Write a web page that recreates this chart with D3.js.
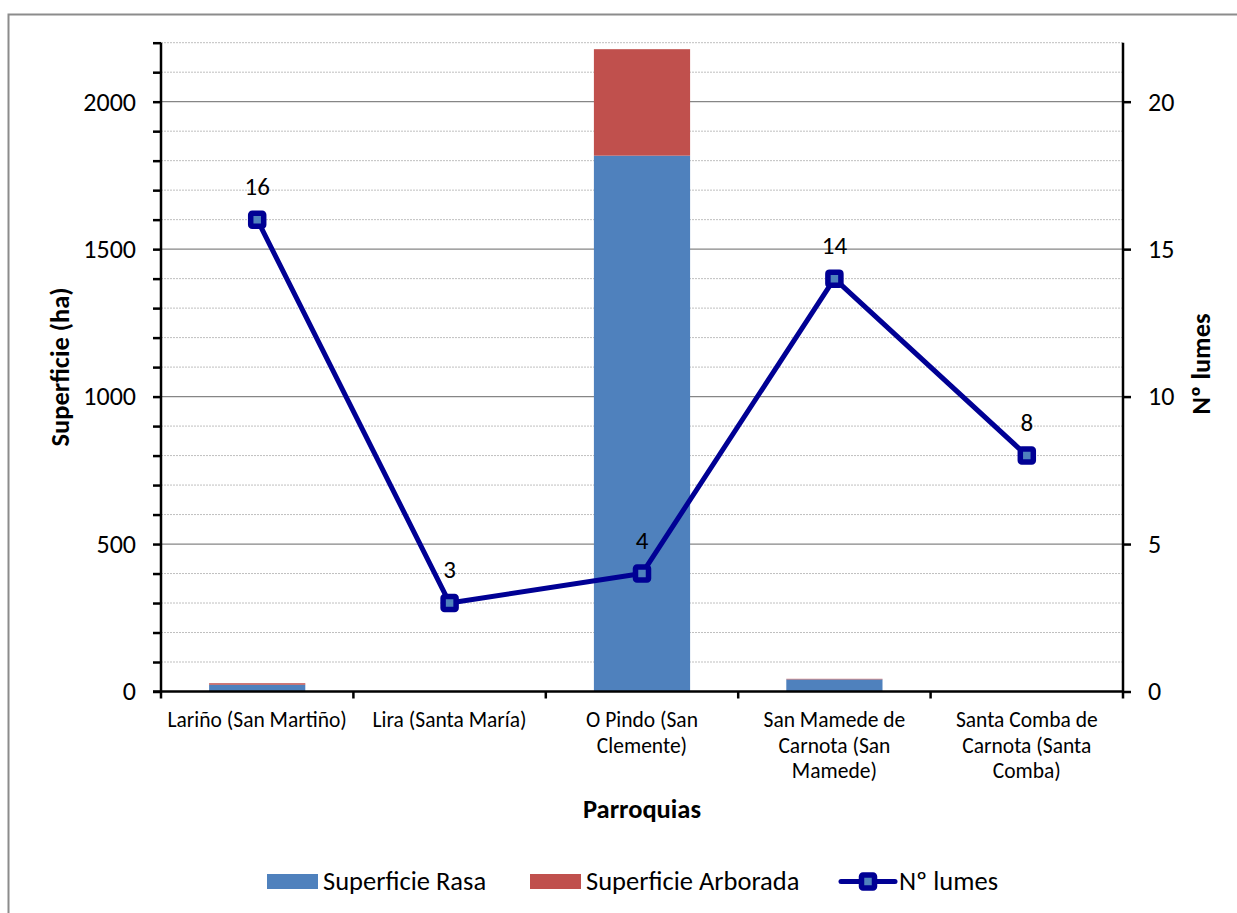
<!DOCTYPE html>
<html>
<head>
<meta charset="utf-8">
<script src="https://cdn.jsdelivr.net/npm/d3@7"></script>
<style>
  body { margin: 0; background: #fff; }
  text { font-family: Carlito, Calibri, Lato, sans-serif; fill: #000; }
</style>
</head>
<body>
<svg id="chart" width="1237" height="913"></svg>
<script>
// datos
var parroquias = ['Lariño (San Martiño)', 'Lira (Santa María)', 'O Pindo (San Clemente)', 'San Mamede de Carnota (San Mamede)', 'Santa Comba de Carnota (Santa Comba)']
var parroquiaLines = [
    ['Lariño (San Martiño)'],
    ['Lira (Santa María)'],
    ['O Pindo (San', 'Clemente)'],
    ['San Mamede de', 'Carnota (San', 'Mamede)'],
    ['Santa Comba de', 'Carnota (Santa', 'Comba)']
]
var superficieRasa = [23, 0, 1817, 41, 0]
var superficieArborada = [5, 0, 361, 2, 0]
var lumes = [16, 3, 4, 14, 8]
var leftTicks = [0, 500, 1000, 1500, 2000]
var rightTicks = [0, 5, 10, 15, 20]

var colRasa = '#4F81BD', colArb = '#C0504D', colLine = '#000094'
var fnt = 'Carlito, Calibri, Lato, sans-serif'

var svg = d3.select('#chart')

// marco
svg.append('rect').attr('x', 8.5).attr('y', 14.5).attr('width', 1240).attr('height', 910)
    .attr('fill', 'none').attr('stroke', '#8c8c8c').attr('stroke-width', 2)

var pLeft = 161, pRight = 1123, pTop = 42.7, pBottom = 691.5

var x = d3.scaleBand().domain(parroquias).range([pLeft, pRight]).paddingInner(0.5).paddingOuter(0.25)
var xb = d3.scaleBand().domain(parroquias).range([pLeft, pRight])
var y = d3.scaleLinear().domain([0, 2200]).range([pBottom, pTop])
var y2 = d3.scaleLinear().domain([0, 22]).range([pBottom, pTop])

// rejilla menor
svg.append('g').selectAll('line').data(d3.range(100, 2201, 100).filter(function (d) { return d % 500 != 0 }))
    .enter().append('line')
    .attr('x1', pLeft).attr('x2', pRight).attr('y1', function (d) { return y(d) }).attr('y2', function (d) { return y(d) })
    .attr('stroke', '#bfbfbf').attr('stroke-width', 1).attr('stroke-dasharray', '2,1')
// rejilla mayor
svg.append('g').selectAll('line').data(leftTicks.slice(1))
    .enter().append('line')
    .attr('x1', pLeft).attr('x2', pRight).attr('y1', function (d) { return y(d) }).attr('y2', function (d) { return y(d) })
    .attr('stroke', '#868686').attr('stroke-width', 1.3)

// barras apiladas
var stack = d3.stack().keys(['rasa', 'arb'])(parroquias.map(function (p, i) {
    return { p: p, rasa: superficieRasa[i], arb: superficieArborada[i] }
}))
var cols = [colRasa, colArb]
stack.forEach(function (s, k) {
    svg.append('g').selectAll('rect').data(s).enter().append('rect')
        .attr('x', function (d) { return x(d.data.p) })
        .attr('width', x.bandwidth())
        .attr('y', function (d) { return y(d[1]) })
        .attr('height', function (d) { return y(d[0]) - y(d[1]) })
        .attr('fill', cols[k])
})

// ejes
var yAxis = svg.append('g').attr('transform', 'translate(' + pLeft + ',0)')
    .call(d3.axisLeft(y).tickValues(d3.range(0, 2201, 100)).tickSize(8).tickFormat(function (d) { return leftTicks.indexOf(d) >= 0 ? d : '' }).tickPadding(17))
yAxis.select('.domain').attr('stroke', '#000').attr('stroke-width', 2.5).attr('d', 'M0,' + pTop + 'V' + pBottom)
yAxis.selectAll('.tick line').attr('stroke', '#000').attr('stroke-width', 2.5)
yAxis.selectAll('text').attr('font-size', 26).attr('font-family', fnt)

var y2Axis = svg.append('g').attr('transform', 'translate(' + pRight + ',0)')
    .call(d3.axisRight(y2).tickValues(rightTicks).tickSize(8).tickPadding(17))
y2Axis.select('.domain').attr('stroke', '#000').attr('stroke-width', 2.5).attr('d', 'M0,' + pTop + 'V' + (pBottom + 7))
y2Axis.selectAll('.tick line').attr('stroke', '#000').attr('stroke-width', 2.5)
y2Axis.selectAll('text').attr('font-size', 26).attr('font-family', fnt)

// eje x
svg.append('line').attr('x1', pLeft - 8).attr('x2', pRight).attr('y1', pBottom).attr('y2', pBottom)
    .attr('stroke', '#000').attr('stroke-width', 2.5)
svg.append('g').selectAll('line').data(parroquias).enter().append('line')
    .attr('x1', function (d) { return xb(d) }).attr('x2', function (d) { return xb(d) })
    .attr('y1', pBottom).attr('y2', pBottom + 7)
    .attr('stroke', '#000').attr('stroke-width', 2.5)

svg.append('g').selectAll('text').data(parroquias).enter().append('text')
    .attr('x', function (d) { return xb(d) + xb.bandwidth() / 2 })
    .attr('y', 727)
    .attr('text-anchor', 'middle').attr('font-size', 21.5)
    .each(function (d, i) {
        var t = d3.select(this)
        parroquiaLines[i].forEach(function (l, j) {
            t.append('tspan').attr('x', xb(d) + xb.bandwidth() / 2).attr('dy', j == 0 ? 0 : 25.5).text(l)
        })
    })

// títulos
svg.append('text').attr('x', 642).attr('y', 818).attr('text-anchor', 'middle')
    .attr('font-size', 26.5).attr('font-weight', 'bold').text('Parroquias')
svg.append('text').attr('transform', 'translate(69,367) rotate(-90)').attr('text-anchor', 'middle')
    .attr('font-size', 26.5).attr('font-weight', 'bold').text('Superficie (ha)')
svg.append('text').attr('transform', 'translate(1210,364) rotate(-90)').attr('text-anchor', 'middle')
    .attr('font-size', 26.5).attr('font-weight', 'bold').text('Nº lumes')

// línea de lumes
var cx = function (i) { return xb(parroquias[i]) + xb.bandwidth() / 2 }
var line = d3.line().x(function (d, i) { return cx(i) }).y(function (d) { return y2(d) })
svg.append('path').datum(lumes).attr('d', line).attr('fill', 'none')
    .attr('stroke', colLine).attr('stroke-width', 5).attr('stroke-linejoin', 'round')
svg.append('g').selectAll('rect').data(lumes).enter().append('rect')
    .attr('x', function (d, i) { return cx(i) - 6.5 }).attr('y', function (d) { return y2(d) - 6.5 })
    .attr('width', 13).attr('height', 13).attr('rx', 1.5)
    .attr('fill', colRasa).attr('stroke', colLine).attr('stroke-width', 5.5)
svg.append('g').selectAll('text').data(lumes).enter().append('text')
    .attr('x', function (d, i) { return cx(i) }).attr('y', function (d) { return y2(d) - 25 })
    .attr('text-anchor', 'middle').attr('font-size', 25).text(function (d) { return d })

// leyenda
var lg = svg.append('g')
lg.append('rect').attr('x', 267).attr('y', 874).attr('width', 51).attr('height', 15).attr('fill', colRasa)
lg.append('text').attr('x', 323).attr('y', 890).attr('font-size', 26.5).text('Superficie Rasa')
lg.append('rect').attr('x', 530).attr('y', 874).attr('width', 51).attr('height', 15).attr('fill', colArb)
lg.append('text').attr('x', 586).attr('y', 890).attr('font-size', 26.5).text('Superficie Arborada')
lg.append('line').attr('x1', 841).attr('x2', 895).attr('y1', 881.5).attr('y2', 881.5)
    .attr('stroke', colLine).attr('stroke-width', 5).attr('stroke-linecap', 'round')
lg.append('rect').attr('x', 861.5).attr('y', 875).attr('width', 13).attr('height', 13).attr('rx', 1.5)
    .attr('fill', colRasa).attr('stroke', colLine).attr('stroke-width', 5.5)
lg.append('text').attr('x', 899).attr('y', 890).attr('font-size', 26.5).text('Nº lumes')
</script>
</body>
</html>
